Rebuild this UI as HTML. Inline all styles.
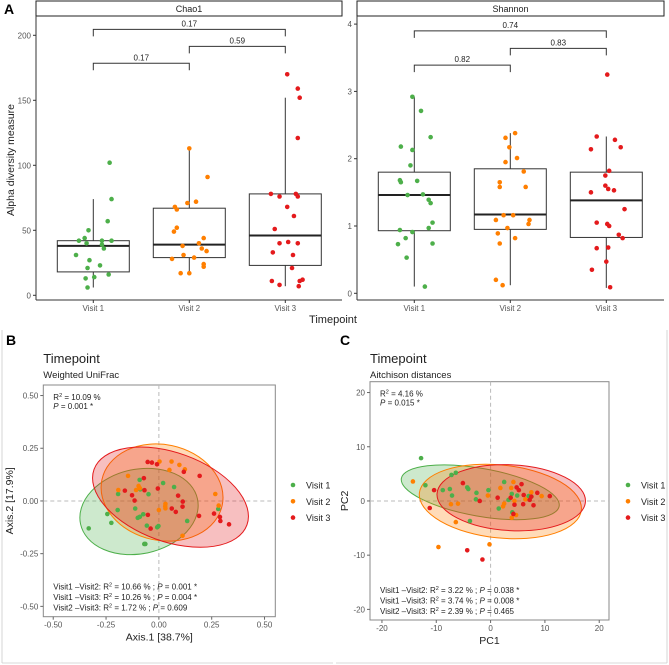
<!DOCTYPE html>
<html><head><meta charset="utf-8">
<style>
html,body{margin:0;padding:0;background:#fff;}
svg{display:block;font-family:"Liberation Sans","DejaVu Sans",sans-serif;}
</style></head>
<body>
<svg id="fig" width="669" height="665" viewBox="0 0 669 665" xmlns="http://www.w3.org/2000/svg">
<rect width="669" height="665" fill="#fff"/>
<g id="root"></g>
</svg>
<script>
// ---------- data ----------
const visits = ["Visit 1","Visit 2","Visit 3"];
const colors = ["#4daf4a","#ff7f00","#e41a1c"];
const chaoTicks = [0,50,100,150,200];
const shanTicks = [0,1,2,3,4];
// box stats: [min, q1, median, q3, max]
const chaoBox = [[6,18,38,42,74],[17,29,39,67,113],[7,23,46,78,152]];
const shanBox = [[0.1,0.93,1.46,1.8,2.92],[0.12,0.95,1.17,1.85,2.38],[0.08,0.83,1.38,1.8,2.33]];
// jitter (fraction of category spacing), value
const chaoV1 = [[0.17,102],[0.19,74],[0.15,57],[-0.05,50],[-0.09,44],[-0.15,42],[-0.07,40],[0.09,42],[0.19,42],[0.09,39],[0.11,36],[-0.18,31],[-0.04,27],[0.07,23],[-0.06,21],[0.16,16],[-0.08,13],[0.01,14],[-0.06,6]];
const chaoV2 = [[0.0,113],[0.19,91],[0.07,72],[-0.02,71],[-0.15,68],[-0.13,66],[-0.13,52],[-0.16,49],[0.1,40],[0.15,44],[-0.07,38],[0.13,36],[0.18,34],[-0.06,31],[0.05,29],[-0.18,28],[0.15,24],[0.15,22],[-0.09,17],[0.0,17]];
const chaoV3 = [[0.02,170],[0.13,159],[0.15,152],[0.13,121],[-0.15,78],[-0.06,76],[0.11,78],[0.13,76],[0.02,68],[0.09,61],[-0.11,51],[-0.06,40],[0.03,41],[0.13,40],[-0.13,33],[0.08,31],[0.07,21],[-0.14,11],[-0.06,8],[0.15,11],[0.18,12],[0.14,7]];
const shanV1 = [[-0.02,2.92],[0.07,2.71],[0.17,2.32],[-0.14,2.18],[-0.02,2.13],[-0.04,1.9],[-0.15,1.68],[-0.14,1.65],[0.03,1.67],[0.09,1.47],[-0.07,1.46],[0.15,1.39],[0.17,1.34],[0.19,1.05],[0.15,0.97],[-0.15,0.94],[-0.02,0.91],[-0.09,0.82],[-0.17,0.73],[0.19,0.74],[-0.08,0.53],[0.11,0.1]];
const shanV2 = [[0.05,2.38],[-0.05,2.31],[-0.01,2.17],[0.07,2.01],[-0.05,1.95],[0.14,1.81],[-0.11,1.65],[-0.11,1.58],[0.16,1.58],[-0.07,1.16],[0.03,1.16],[-0.15,1.09],[0.2,1.09],[0.19,1.03],[-0.03,0.97],[-0.13,0.89],[0.05,0.82],[-0.11,0.74],[-0.15,0.2],[-0.08,0.12]];
const shanV3 = [[0.01,3.25],[-0.1,2.33],[0.09,2.28],[-0.16,2.14],[0.15,2.17],[0.03,1.82],[-0.01,1.75],[-0.01,1.6],[0.02,1.55],[0.08,1.53],[-0.16,1.5],[0.19,1.25],[-0.1,1.05],[0.01,1.03],[0.03,1.0],[0.13,0.87],[0.17,0.82],[-0.1,0.67],[0.02,0.68],[0.0,0.47],[-0.15,0.35],[0.04,0.09]];
const chaoBrackets = [[0,2,204.6,"0.17"],[1,2,191.5,"0.59"],[0,1,178.5,"0.17"]];
const shanBrackets = [[0,2,3.9,"0.74"],[1,2,3.64,"0.83"],[0,1,3.39,"0.82"]];

const pcoaTicks = [-0.5,-0.25,0,0.25,0.5];
const pcoaTickLabels = ["-0.50","-0.25","0.00","0.25","0.50"];
const pcoaV1 = [[-0.332,-0.13],[-0.244,-0.062],[-0.225,-0.104],[-0.195,-0.043],[-0.193,0.033],[-0.091,0.1],[-0.088,0.055],[-0.049,0.032],[0.02,0.085],[0.072,0.066],[-0.112,-0.036],[-0.1,-0.08],[-0.074,-0.063],[-0.057,-0.117],[-0.008,-0.125],[-0.002,-0.119],[-0.069,-0.204],[-0.064,-0.204],[0.134,-0.095],[0.281,-0.038],[-0.09,-0.075]];
const pcoaV2 = [[-0.146,0.119],[-0.192,0.052],[-0.108,0.052],[-0.096,0.071],[0.003,0.187],[0.06,0.187],[0.097,0.171],[0.123,0.15],[0.05,0.147],[0.267,0.033],[0.283,-0.022],[0.0,-0.043],[0.031,-0.014],[0.031,-0.035],[0.112,-0.165],[0.03,-0.025],[-0.09,0.06]];
const pcoaV3 = [[-0.053,0.185],[-0.033,0.182],[-0.009,0.174],[0.118,0.138],[0.193,0.119],[-0.071,0.108],[-0.161,0.049],[-0.127,0.027],[-0.115,0.002],[-0.068,0.051],[-0.005,0.059],[0.091,0.025],[0.113,-0.003],[0.061,-0.036],[0.08,-0.052],[0.112,-0.027],[-0.052,-0.066],[-0.039,-0.131],[0.19,-0.071],[0.261,-0.06],[0.289,-0.076],[0.291,-0.095],[0.332,-0.111]];
// ellipses: cx, cy, rx, ry (x units), angle deg
const pcoaEll = [[-0.094,-0.05,0.283,0.2,-12],[0.015,0.04,0.291,0.227,12],[0.055,0.018,0.385,0.21,20]];

const pcaTicks = [-20,-10,0,10,20];
const pcaV1 = [[-12.8,7.9],[-12,2.9],[-7.2,4.8],[-6.4,5.2],[-7.5,2.2],[-8.8,2],[-7.1,1],[-4.3,2.5],[-4.1,2.2],[-2.6,1.5],[-2.7,0.3],[-0.4,2],[-3.8,-3.7],[2.5,3.5],[3.9,1.3],[4.9,1],[3.3,0.2],[1.5,-1.4],[4,-2.1],[7,0.9],[7.5,0.8]];
const pcaV2 = [[-14.3,3.6],[-9.6,-8.5],[-7.3,-0.6],[-6,-0.5],[-6.4,-3.9],[-0.2,-8],[-0.5,1],[1.8,2.4],[2.5,-0.5],[2.3,-1],[3.8,2.4],[4.2,3.5],[3.9,-3.1],[4.7,-2.6],[7.5,1.6],[9.4,0.9],[4.4,0],[6.4,0.3]];
const pcaV3 = [[-10.4,2],[-11.2,-1.3],[-5.1,3.3],[-4.3,-9.1],[-1.5,-10.8],[-2,0],[1.3,0.6],[3.7,0.6],[4.8,2.5],[5.2,2],[5.7,3.1],[6.1,1.1],[6,-0.6],[4.4,-0.7],[4.2,-2.4],[7.5,0.8],[7.2,0.2],[7.9,-0.8],[8.6,1.5],[10.9,0.9]];
const pcaEll = [[-1.9,1.6,14.75,4.4,10],[1.8,-0.1,14.99,6.72,6],[3.8,0.6,13.68,6.06,3]];

// ---------- helpers ----------
const NS="http://www.w3.org/2000/svg";
const root=document.getElementById('root');
function mk(tag,attrs,parent,text){const e=document.createElementNS(NS,tag);for(const k in attrs)e.setAttribute(k,attrs[k]);if(text!==undefined)e.textContent=text;(parent||root).appendChild(e);return e;}
function grp(name){const g=mk('g',{});


return g;}

// ---------- Panel A ----------
function boxPanel(opt){
  const g=grp(opt.name);
  const y=v=>opt.y0-(v)*opt.k;
  const x=i=>opt.xc0+i*96;
  const strip=mk('rect',{x:opt.left,y:1,width:opt.right-opt.left,height:15,fill:'#fff',stroke:'#222','stroke-width':1},g);
  
  
  const st=mk('text',{x:(opt.left+opt.right)/2,y:12,'font-size':9,'text-anchor':'middle',fill:'#222'},g,opt.title);
  
  
  mk('line',{x1:opt.left,y1:16,x2:opt.left,y2:300,stroke:'#333','stroke-width':1},g);
  mk('line',{x1:opt.left,y1:300,x2:opt.right,y2:300,stroke:'#333','stroke-width':1},g);
  opt.ticks.forEach(t=>{
    mk('line',{x1:opt.left-3,x2:opt.left,y1:y(t),y2:y(t),stroke:'#333'},g);
    const tl=mk('text',{x:opt.left-5,y:y(t)+3,'font-size':8,'text-anchor':'end',fill:'#555'},g,String(t));
    
    
  });
  visits.forEach((v,i)=>{
    mk('line',{x1:x(i),x2:x(i),y1:300,y2:303,stroke:'#333'},g);
    const tl=mk('text',{x:x(i),y:311,'font-size':8,'text-anchor':'middle',fill:'#555'},g,v);
    
    
    const b=opt.box[i];
    mk('line',{x1:x(i),x2:x(i),y1:y(b[0]),y2:y(b[1]),stroke:'#333','stroke-width':1},g);
    mk('line',{x1:x(i),x2:x(i),y1:y(b[3]),y2:y(b[4]),stroke:'#333','stroke-width':1},g);
    const r=mk('rect',{x:x(i)-36,y:y(b[3]),width:72,height:y(b[1])-y(b[3]),fill:'none',stroke:'#333','stroke-width':1},g);
    
    
    mk('line',{x1:x(i)-36,x2:x(i)+36,y1:y(b[2]),y2:y(b[2]),stroke:'#222','stroke-width':2},g);
    opt.pts[i].forEach(p=>{
      const c=mk('circle',{cx:x(i)+p[0]*96,cy:y(p[1]),r:2.3,fill:colors[i]},g);
      
      
    });
  });
  opt.br.forEach(b=>{
    const yy=y(b[2]);
    mk('path',{d:`M${x(b[0])},${yy+7}V${yy}H${x(b[1])}V${yy+7}`,fill:'none',stroke:'#333','stroke-width':1},g);
    const t=mk('text',{x:(x(b[0])+x(b[1]))/2,y:yy-3,'font-size':8,'text-anchor':'middle',fill:'#222'},g,b[3]);
    
    
  });
}
boxPanel({name:'chao1-panel',title:'Chao1',left:36,right:342,y0:295.3,k:1.3,xc0:93.3,ticks:chaoTicks,box:chaoBox,pts:[chaoV1,chaoV2,chaoV3],br:chaoBrackets});
boxPanel({name:'shannon-panel',title:'Shannon',left:357,right:664,y0:293.3,k:67.3,xc0:414.3,ticks:shanTicks,box:shanBox,pts:[shanV1,shanV2,shanV3],br:shanBrackets});
let t;
t=mk('text',{x:4,y:14,'font-size':14,'font-weight':'bold',fill:'#000'},root,'A');

t=mk('text',{x:333,y:323,'font-size':11,'text-anchor':'middle',fill:'#222'},root,'Timepoint');

t=mk('text',{x:0,y:0,'font-size':10.5,'text-anchor':'middle',fill:'#222',transform:'translate(14,160) rotate(-90)'},root,'Alpha diversity measure');


// ---------- Scatter panels ----------
function scatterPanel(o){
  const g=grp(o.name);
  const sx=v=>o.px0+(v-o.xmin)*(o.px1-o.px0)/(o.xmax-o.xmin);
  const sy=v=>o.py1-(v-o.ymin)*(o.py1-o.py0)/(o.ymax-o.ymin);
  const kx=(o.px1-o.px0)/(o.xmax-o.xmin);
  mk('line',{x1:o.borderX,x2:o.borderX,y1:330,y2:663,stroke:'#ccc','stroke-width':0.8},g);
  mk('line',{x1:o.boxX,x2:o.boxX+331,y1:663,y2:663,stroke:'#ccc','stroke-width':0.8},g);
  mk('rect',{x:o.px0,y:o.py0,width:o.px1-o.px0,height:o.py1-o.py0,fill:'#fff',stroke:'#888','stroke-width':1},g);
  mk('line',{x1:sx(0),x2:sx(0),y1:o.py0,y2:o.py1,stroke:'#bbb','stroke-dasharray':'4,3','stroke-width':1},g);
  mk('line',{x1:o.px0,x2:o.px1,y1:sy(0),y2:sy(0),stroke:'#bbb','stroke-dasharray':'4,3','stroke-width':1},g);
  o.ticks.forEach((tv,i)=>{
    mk('line',{x1:sx(tv),x2:sx(tv),y1:o.py1,y2:o.py1+3,stroke:'#666'},g);
    let e=mk('text',{x:sx(tv),y:o.py1+11,'font-size':8,'text-anchor':'middle',fill:'#555'},g,o.labels[i]);
    
    mk('line',{x1:o.px0-3,x2:o.px0,y1:sy(tv),y2:sy(tv),stroke:'#666'},g);
    e=mk('text',{x:o.px0-5,y:sy(tv)+3,'font-size':8,'text-anchor':'end',fill:'#555'},g,o.labels[i]);
    
  });
  o.ell.forEach((e,i)=>{
    const el=mk('ellipse',{cx:0,cy:0,rx:e[2]*kx,ry:e[3]*kx,fill:colors[i],'fill-opacity':0.28,stroke:colors[i],'stroke-width':1,transform:`translate(${sx(e[0])},${sy(e[1])}) rotate(${e[4]})`},g);
    
    
  });
  o.pts.forEach((arr,i)=>arr.forEach(p=>{
    const c=mk('circle',{cx:sx(p[0]),cy:sy(p[1]),r:2.3,fill:colors[i]},g);
    
    
  }));
  let e;
  e=mk('text',{x:o.boxX+4,y:345,'font-size':14,'font-weight':'bold',fill:'#000'},g,o.letter);
  
  e=mk('text',{x:o.px0,y:363,'font-size':13,fill:'#222'},g,'Timepoint');
  
  e=mk('text',{x:o.px0,y:378,'font-size':9.5,fill:'#222'},g,o.subtitle);
  
  e=mk('text',{x:(o.px0+o.px1)/2,y:o.py1+24,'font-size':10.5,'text-anchor':'middle',fill:'#222'},g,o.xtitle);
  
  e=mk('text',{x:0,y:0,'font-size':10.5,'text-anchor':'middle',fill:'#222',transform:`translate(${o.ytx},${(o.py0+o.py1)/2}) rotate(-90)`},g,o.ytitle);
  
  const ax=o.px0+10;
  e=mk('text',{x:ax,y:o.py0+15,'font-size':8,fill:'#222'},g);
  e.innerHTML='R<tspan dy="-3" font-size="5.5">2</tspan><tspan dy="3"> = '+o.r2+'</tspan>';
  
  e=mk('text',{x:ax,y:o.py0+24,'font-size':8,fill:'#222'},g);
  e.innerHTML='<tspan font-style="italic">P</tspan> = '+o.p;
  
  o.pairs.forEach((pr,i)=>{
    e=mk('text',{x:ax,y:o.py1-27+i*10.5,'font-size':8,fill:'#222'},g);
    e.innerHTML=pr[0]+':  R<tspan dy="-3" font-size="5.5">2</tspan><tspan dy="3"> = '+pr[1]+' ; </tspan><tspan font-style="italic">P</tspan> = '+pr[2];
    
  });
  visits.forEach((v,i)=>{
    const lg=mk('g',{},g);
    
    
    mk('circle',{cx:o.legX,cy:485+i*16.3,r:2.3,fill:colors[i]},lg);
    mk('text',{x:o.legX+13,y:488.5+i*16.3,'font-size':9,fill:'#222'},lg,v);
  });
}
scatterPanel({name:'pcoa-panel',letter:'B',boxX:2,borderX:2,px0:43.3,px1:275.3,py0:385,py1:616.7,xmin:-0.547,xmax:0.551,ymin:-0.549,ymax:0.55,
  ticks:pcoaTicks,labels:pcoaTickLabels,pts:[pcoaV1,pcoaV2,pcoaV3],ell:pcoaEll,subtitle:'Weighted UniFrac',xtitle:'Axis.1   [38.7%]',ytitle:'Axis.2   [17.9%]',ytx:13,
  r2:'10.09 %',p:'0.001 *',pairs:[['Visit1 \u2013Visit2','10.66 %','0.001 *'],['Visit1 \u2013Visit3','10.26 %','0.004 *'],['Visit2 \u2013Visit3','1.72 %','0.609']],legX:293});
scatterPanel({name:'pca-panel',letter:'C',boxX:336,borderX:667,px0:370,px1:609,py0:381.7,py1:620,xmin:-22.2,xmax:21.8,ymin:-21.96,ymax:22,
  ticks:pcaTicks,labels:pcaTicks.map(String),pts:[pcaV1,pcaV2,pcaV3],ell:pcaEll,subtitle:'Aitchison distances',xtitle:'PC1',ytitle:'PC2',ytx:348,
  r2:'4.16 %',p:'0.015 *',pairs:[['Visit1 \u2013Visit2','3.22 %','0.038 *'],['Visit1 \u2013Visit3','3.74 %','0.008 *'],['Visit2 \u2013Visit3','2.39 %','0.465']],legX:628});
</script>
</body></html>
